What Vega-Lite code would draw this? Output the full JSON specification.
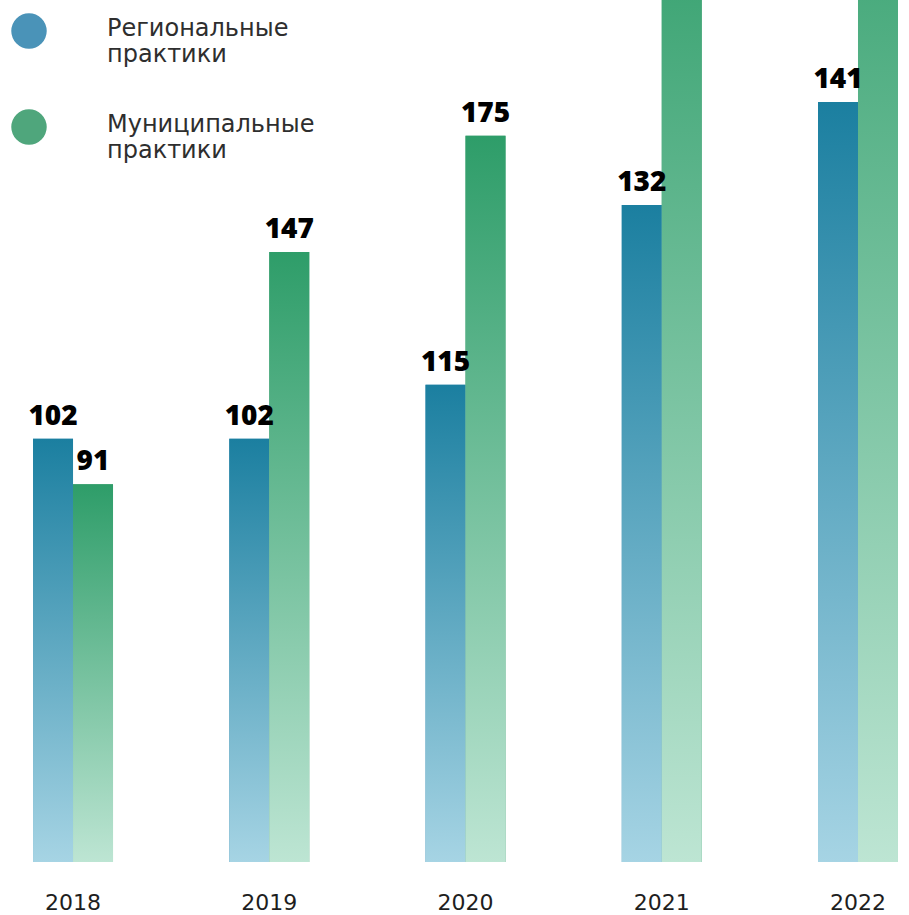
{
  "$schema": "https://vega.github.io/schema/vega-lite/v6.json",
  "width": 909,
  "height": 862,
  "autosize": {"type": "none"},
  "padding": {"left": 0, "top": 0, "right": 0, "bottom": 53},
  "background": "#ffffff",
  "config": {"view": {"stroke": null}},
  "data": {"values": [
    {"year": "2018", "type": "Региональные практики", "value": 102, "bar": 102},
    {"year": "2018", "type": "Муниципальные практики", "value": 91, "bar": 91},
    {"year": "2019", "type": "Региональные практики", "value": 102, "bar": 102},
    {"year": "2019", "type": "Муниципальные практики", "value": 147, "bar": 147},
    {"year": "2020", "type": "Региональные практики", "value": 115, "bar": 115},
    {"year": "2020", "type": "Муниципальные практики", "value": 175, "bar": 175},
    {"year": "2021", "type": "Региональные практики", "value": 132, "bar": 158.3},
    {"year": "2021", "type": "Муниципальные практики", "value": null, "bar": 240},
    {"year": "2022", "type": "Региональные практики", "value": 141, "bar": 183.1},
    {"year": "2022", "type": "Муниципальные практики", "value": null, "bar": 260}
  ]},
  "encoding": {
    "x": {
      "field": "year", "type": "nominal",
      "scale": {"paddingInner": 0.5924, "paddingOuter": 0.1122, "align": 0.75},
      "axis": {"title": null, "domain": false, "ticks": false, "labelAngle": 0, "labelFontSize": 22, "labelFont": "DejaVu Sans", "labelColor": "#1e1e1e", "labelPadding": 30}
    },
    "xOffset": {"field": "type", "type": "nominal", "sort": ["Региональные практики", "Муниципальные практики"], "scale": {"paddingInner": 0, "paddingOuter": 0}},
    "y": {"field": "bar", "type": "quantitative", "scale": {"domain": [0, 207.7], "nice": false}, "axis": null}
  },
  "layer": [
    {
      "mark": {"type": "bar", "clip": true},
      "encoding": {
        "color": {
          "field": "type", "type": "nominal",
          "sort": ["Региональные практики", "Муниципальные практики"],
          "scale": {"domain": ["Региональные практики", "Муниципальные практики"], "range": ["#4a93b8", "#4fa67c"]},
          "legend": {
            "title": null, "orient": "none", "legendX": 11, "legendY": 13,
            "symbolType": "circle", "symbolSize": 1257, "symbolStrokeWidth": 0,
            "labelFont": "DejaVu Sans", "labelFontSize": 24, "labelColor": "#2e2e2e",
            "labelOffset": 60, "labelLimit": 400, "rowPadding": 42,
            "labelExpr": "split(datum.label, ' ')", "labelBaseline": "middle",
            "encode": {"labels": {"update": {"dy": {"value": -2}}}}
          }
        }
      }
    },
    {
      "mark": {"type": "bar", "clip": true},
      "encoding": {
        "fill": {
          "condition": {
            "test": "datum.type === 'Региональные практики'",
            "value": {"gradient": "linear", "x1": 0, "y1": 0, "x2": 0, "y2": 1, "stops": [{"offset": 0, "color": "#1b7fa0"}, {"offset": 1, "color": "#a6d4e4"}]}
          },
          "value": {"gradient": "linear", "x1": 0, "y1": 0, "x2": 0, "y2": 1, "stops": [{"offset": 0, "color": "#2e9d69"}, {"offset": 1, "color": "#bde5d3"}]}
        }
      }
    },
    {
      "transform": [{"filter": "datum.value != null"}],
      "mark": {"type": "text", "clip": true, "baseline": "bottom", "dy": -8, "font": "Open Sans", "fontWeight": 800, "fontSize": 28, "color": "#000000"},
      "encoding": {"text": {"field": "value", "type": "quantitative"}}
    }
  ]
}
